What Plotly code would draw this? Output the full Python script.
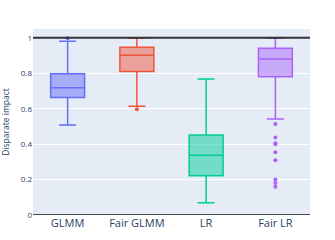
import plotly.graph_objects as go

categories = ["GLMM", "Fair GLMM", "LR", "Fair LR"]
colors = ["#636efa", "#EF553B", "#00cc96", "#ab63fa"]
q1 = [0.663, 0.81, 0.222, 0.781]
median = [0.719, 0.902, 0.337, 0.881]
q3 = [0.798, 0.947, 0.452, 0.942]
lowerfence = [0.508, 0.614, 0.069, 0.542]
upperfence = [0.981, 0.998, 0.768, 0.998]
outliers = [
    [0.998],
    [0.597],
    [],
    [0.514, 0.437, 0.405, 0.399, 0.354, 0.309, 0.200, 0.181, 0.160],
]

fig = go.Figure()
for i, c in enumerate(categories):
    fig.add_trace(go.Box(
        x=[c], q1=[q1[i]], median=[median[i]], q3=[q3[i]],
        lowerfence=[lowerfence[i]], upperfence=[upperfence[i]],
        name=c, marker_color=colors[i], line_width=1.5,
        boxpoints=False,
    ))
    if outliers[i]:
        fig.add_trace(go.Scatter(
            x=[c] * len(outliers[i]), y=outliers[i], mode="markers",
            marker=dict(color=colors[i], size=4), showlegend=False,
            hoverinfo="y",
        ))

fig.add_shape(type="line", xref="paper", yref="y", x0=0, x1=1, y0=1, y1=1,
              line=dict(color="#333333", width=2))
fig.add_shape(type="line", xref="paper", yref="y", x0=0, x1=1, y0=0, y1=0,
              line=dict(color="#111111", width=1.5))

fig.update_layout(
    width=335, height=240,
    margin=dict(l=33, r=25, t=29, b=25),
    showlegend=False,
    template="plotly",
    font=dict(family="Open Sans, verdana, arial, sans-serif", color="#2a3f5f"),
)
fig.update_yaxes(range=[0, 1.05], tickvals=[0, 0.2, 0.4, 0.6, 0.8, 1],
                 ticktext=["0", "0.2", "0.4", "0.6", "0.8", "1"],
                 tickfont=dict(size=8), zeroline=False, automargin=False,
                 title=dict(text="Disparate impact", font=dict(size=8.5), standoff=12))
fig.update_xaxes(categoryorder="array", categoryarray=categories,
                 tickfont=dict(size=11), automargin=False)

fig.write_html("out.html", config={"displayModeBar": False},
               post_script="document.body.style.margin='0';")
